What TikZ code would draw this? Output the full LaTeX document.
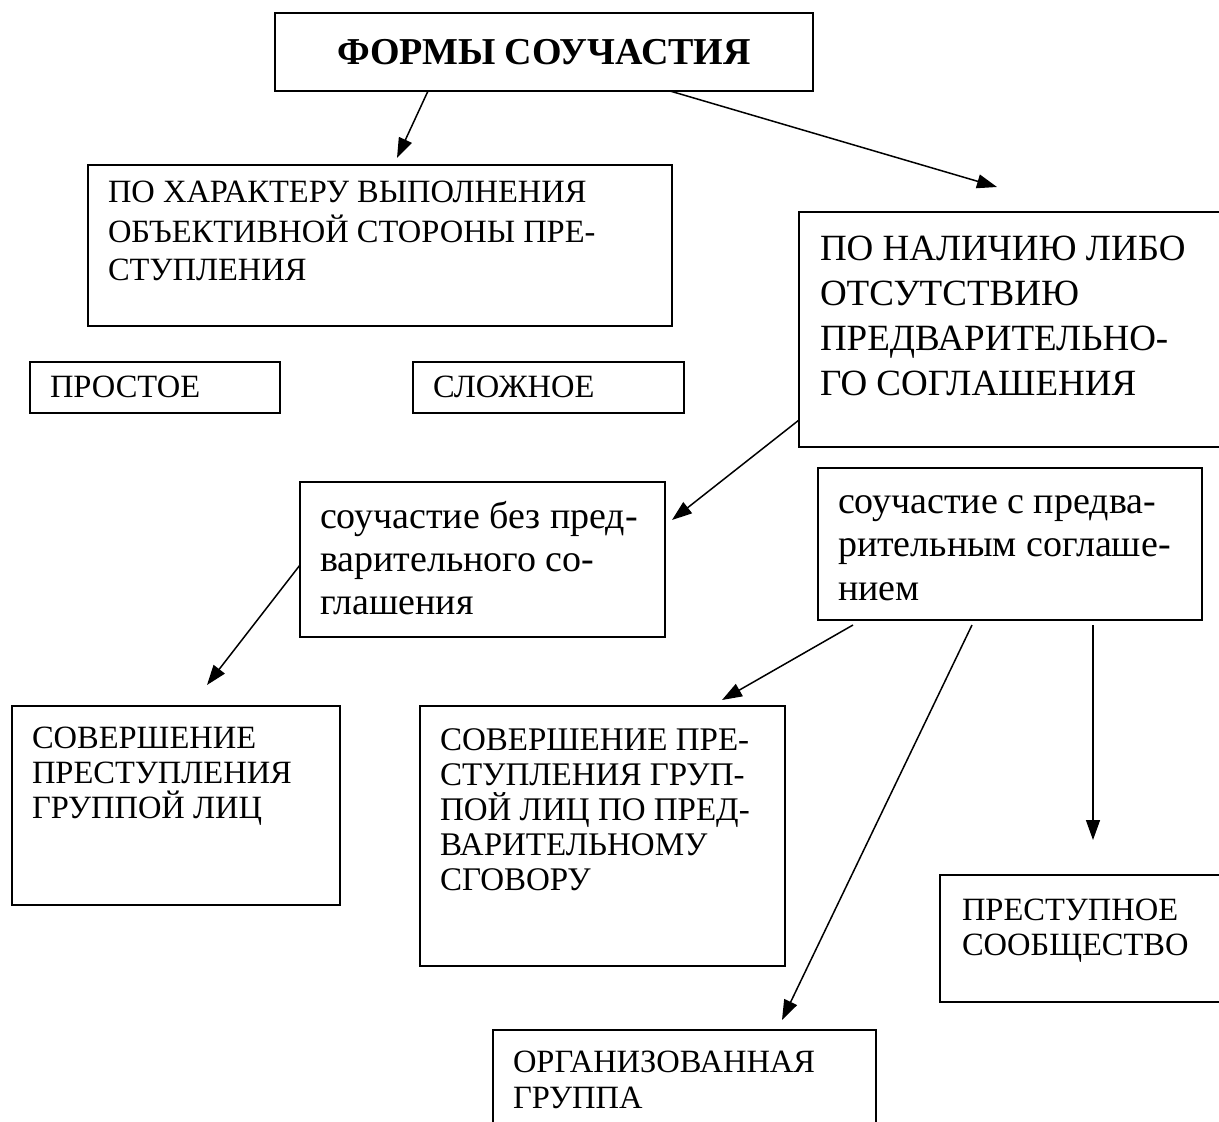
\documentclass[tikz,border=0pt]{standalone}
\usepackage{fontspec}
\setmainfont{Liberation Serif}
\usetikzlibrary{arrows.meta,calc}
\newcommand\bt[4]{\parbox[t][#2][t]{#1}{#3\raggedright\strut #4}}
\begin{document}
\begin{tikzpicture}[x=1pt,y=-1pt,
  bx/.style={draw, line width=1.6pt, anchor=north west, inner xsep=20pt, inner ysep=14pt, outer sep=0pt},
  arr/.style={line width=1.5pt,-{Triangle[length=20pt,width=14pt]}}]
\useasboundingbox (0,0) rectangle (1219,1122);
\clip (0,0) rectangle (1219,1122);
\fill[white] (0,0) rectangle (1219,1122);

\node[draw, line width=1.6pt, anchor=north west, minimum width=538pt, minimum height=78pt, inner sep=0pt, outer sep=0pt, font=\fontsize{38}{44}\selectfont\bfseries] (top) at (275,13) {ФОРМЫ СОУЧАСТИЯ};

\node[bx, inner ysep=11pt] (har) at (88,165) {\bt{544pt}{139pt}{\fontsize{32.5}{38}\selectfont}{ПО ХАРАКТЕРУ ВЫПОЛНЕНИЯ\\ОБЪЕКТИВНОЙ СТОРОНЫ ПРЕ-\\СТУПЛЕНИЯ}};
\node[bx, inner ysep=10pt] (prost) at (30,362) {\bt{210pt}{31pt}{\fontsize{32.5}{36}\selectfont}{ПРОСТОЕ}};
\node[bx, inner ysep=10pt] (slozh) at (413,362) {\bt{231pt}{31pt}{\fontsize{32.5}{36}\selectfont}{СЛОЖНОЕ}};
\node[bx, inner xsep=21pt, inner ysep=16.5pt] (nal) at (799,212) {\bt{399pt}{202pt}{\fontsize{37}{45}\selectfont}{ПО НАЛИЧИЮ ЛИБО\\ОТСУТСТВИЮ\\ПРЕДВАРИТЕЛЬНО-\\ГО СОГЛАШЕНИЯ}};
\node[bx, inner ysep=16.5pt] (bez) at (300,482) {\bt{325pt}{122pt}{\fontsize{38}{43}\selectfont}{соучастие без пред-\\варительного со-\\глашения}};
\node[bx, inner ysep=15pt] (sgr) at (818,468) {\bt{344pt}{122pt}{\fontsize{38}{43.5}\selectfont}{соучастие с предва-\\рительным соглаше-\\нием}};
\node[bx, inner ysep=18pt] (grl) at (12,706) {\bt{288pt}{163pt}{\fontsize{32.5}{35}\selectfont}{СОВЕРШЕНИЕ\\ПРЕСТУПЛЕНИЯ\\ГРУППОЙ ЛИЦ}};
\node[bx, inner ysep=20pt] (sgv) at (420,706) {\bt{325pt}{220pt}{\fontsize{33}{35}\selectfont}{СОВЕРШЕНИЕ ПРЕ-\\СТУПЛЕНИЯ ГРУП-\\ПОЙ ЛИЦ ПО ПРЕД-\\ВАРИТЕЛЬНОМУ\\СГОВОРУ}};
\node[bx, inner xsep=22pt, inner ysep=21pt] (soob) at (940,875) {\bt{256pt}{85pt}{\fontsize{32.5}{35}\selectfont}{ПРЕСТУПНОЕ\\СООБЩЕСТВО}};
\node[bx, inner ysep=17.5pt] (org) at (493,1030) {\bt{343pt}{85pt}{\fontsize{32.5}{36}\selectfont}{ОРГАНИЗОВАННАЯ\\ГРУППА}};

\coordinate (ta) at (397,158);
\coordinate (tb) at (997,187);
\coordinate (tc) at (672,520);
\coordinate (td) at (207,685);
\coordinate (te) at (722,700);
\coordinate (tf) at (782,1020);
\coordinate (tg) at (1093,840);

\draw[arr] ($(top.south west)+(153,0)$) -- (ta);
\draw[arr] ($(top.south west)+(395,0)$) -- (tb);
\draw[arr] ($(nal.north west)+(0,208)$) -- (tc);
\draw[arr] ($(bez.north west)+(0,83)$) -- (td);
\draw[arr] ($(sgr.south west)+(35,5)$) -- (te);
\draw[arr] ($(sgr.south west)+(154,5)$) -- (tf);
\draw[arr] ($(sgr.south west)+(275,5)$) -- (tg);
\end{tikzpicture}
\end{document}
